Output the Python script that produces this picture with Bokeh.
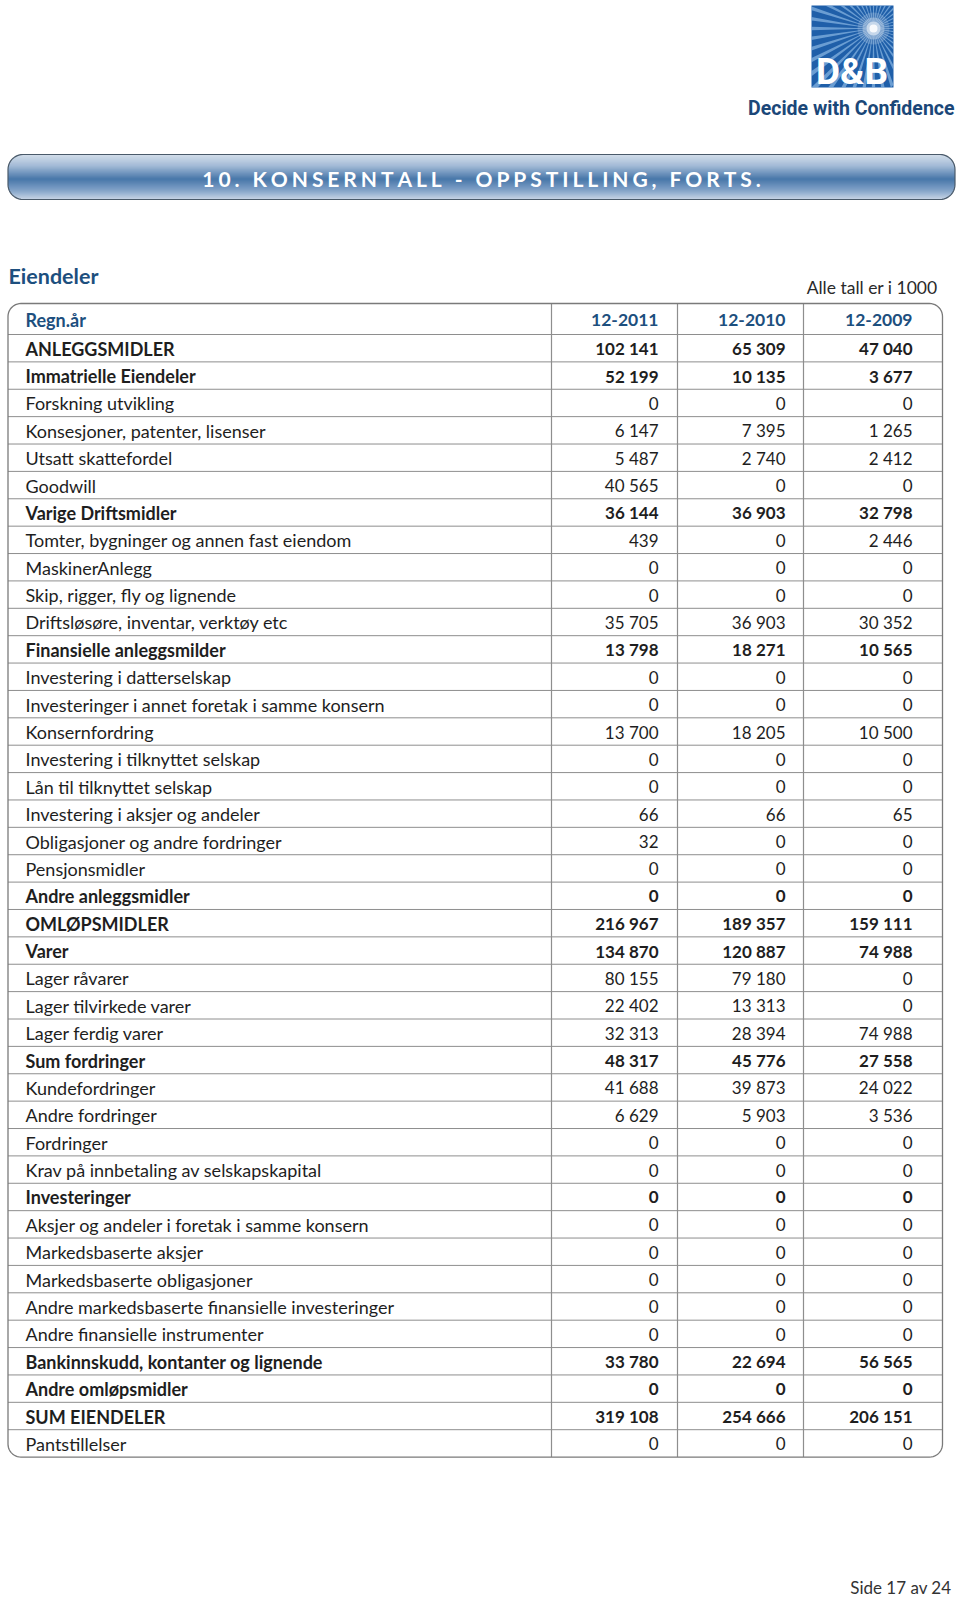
import numpy as np
from bokeh.plotting import figure
from bokeh.models import Range1d, ColumnDataSource
from bokeh.core.properties import value
from bokeh.embed import file_html
from bokeh.resources import INLINE

# ---------------- data ----------------
years = ["12-2011", "12-2010", "12-2009"]
labels = [
    "ANLEGGSMIDLER", "Immatrielle Eiendeler", "Forskning utvikling",
    "Konsesjoner, patenter, lisenser", "Utsatt skattefordel", "Goodwill",
    "Varige Driftsmidler", "Tomter, bygninger og annen fast eiendom",
    "MaskinerAnlegg", "Skip, rigger, fly og lignende",
    "Driftsløsøre, inventar, verktøy etc", "Finansielle anleggsmilder",
    "Investering i datterselskap", "Investeringer i annet foretak i samme konsern",
    "Konsernfordring", "Investering i tilknyttet selskap", "Lån til tilknyttet selskap",
    "Investering i aksjer og andeler", "Obligasjoner og andre fordringer",
    "Pensjonsmidler", "Andre anleggsmidler", "OMLØPSMIDLER", "Varer",
    "Lager råvarer", "Lager tilvirkede varer", "Lager ferdig varer",
    "Sum fordringer", "Kundefordringer", "Andre fordringer", "Fordringer",
    "Krav på innbetaling av selskapskapital", "Investeringer",
    "Aksjer og andeler i foretak i samme konsern", "Markedsbaserte aksjer",
    "Markedsbaserte obligasjoner", "Andre markedsbaserte finansielle investeringer",
    "Andre finansielle instrumenter", "Bankinnskudd, kontanter og lignende",
    "Andre omløpsmidler", "SUM EIENDELER", "Pantstillelser",
]
bold = [
    1, 1, 0, 0, 0, 0, 1, 0, 0, 0, 0, 1, 0, 0, 0, 0, 0, 0, 0, 0, 1,
    1, 1, 0, 0, 0, 1, 0, 0, 0, 0, 1, 0, 0, 0, 0, 0, 1, 1, 1, 0,
]
v2011 = [102141, 52199, 0, 6147, 5487, 40565, 36144, 439, 0, 0, 35705, 13798, 0, 0,
         13700, 0, 0, 66, 32, 0, 0, 216967, 134870, 80155, 22402, 32313, 48317,
         41688, 6629, 0, 0, 0, 0, 0, 0, 0, 0, 33780, 0, 319108, 0]
v2010 = [65309, 10135, 0, 7395, 2740, 0, 36903, 0, 0, 0, 36903, 18271, 0, 0,
         18205, 0, 0, 66, 0, 0, 0, 189357, 120887, 79180, 13313, 28394, 45776,
         39873, 5903, 0, 0, 0, 0, 0, 0, 0, 0, 22694, 0, 254666, 0]
v2009 = [47040, 3677, 0, 1265, 2412, 0, 32798, 2446, 0, 0, 30352, 10565, 0, 0,
         10500, 0, 0, 65, 0, 0, 0, 159111, 74988, 0, 0, 74988, 27558,
         24022, 3536, 0, 0, 0, 0, 0, 0, 0, 0, 56565, 0, 206151, 0]

title = "10. KONSERNTALL - OPPSTILLING, FORTS."
section = "Eiendeler"
unit_note = "Alle tall er i 1000"
first_col = "Regn.år"
footer = "Side 17 av 24"
brand = "D&B"
slogan = "Decide with Confidence"


def fmt(v):
    return f"{v:,}".replace(",", " ")


# ---------------- layout ----------------
W, H = 956, 1600
FONT = value("Lato")
BLUE = "#1d4f7e"
TXT = "#1e1e1e"
GRID = "#8e8e8e"

p = figure(width=W, height=H, output_backend="svg", toolbar_location=None,
           x_range=Range1d(0, W), y_range=Range1d(H, 0),
           x_axis_location=None, y_axis_location=None, min_border=0)
p.grid.visible = False
p.outline_line_color = None
p.background_fill_color = "white"
p.border_fill_color = "white"

# ---------- logo ----------
lx0, lx1, ly0, ly1 = 811, 893, 5, 87
p.quad(left=[lx0], right=[lx1], top=[ly0], bottom=[ly1], fill_color="#1f5fa9", line_color=None)
cx, cy = 873, 28
xs, ys = [], []
for a in np.arange(0, 360, 9):
    pts_x, pts_y = [cx], [cy]
    for da in (-1.6, 1.6):
        r = np.deg2rad(a + da)
        dx, dy = np.cos(r), np.sin(r)
        ts = []
        if dx > 1e-9: ts.append((lx1 - cx) / dx)
        if dx < -1e-9: ts.append((lx0 - cx) / dx)
        if dy > 1e-9: ts.append((ly1 - cy) / dy)
        if dy < -1e-9: ts.append((ly0 - cy) / dy)
        t = min(ts)
        pts_x.append(cx + t * dx)
        pts_y.append(cy + t * dy)
    xs.append(pts_x)
    ys.append(pts_y)
p.patches(xs, ys, fill_color="#9cc6ee", fill_alpha=0.6, line_color=None)
for rr, al in [(16, 0.18), (11, 0.3), (7, 0.5), (4, 0.85)]:
    p.circle(x=[cx], y=[cy], radius=rr, fill_color="white", fill_alpha=al, line_color=None)
p.text(x=[851.5], y=[71], text=[brand], text_font=value("Roboto"), text_font_style="bold",
       text_font_size="37px", text_color="white", text_align="center", text_baseline="middle")
p.text(x=[954], y=[108], text=[slogan], text_font=value("Roboto"),
       text_font_style="bold", text_font_size="19.5px", text_color="#1b4778",
       text_align="right", text_baseline="middle")

# ---------- title bar with gradient ----------
bx0, bx1, by0, by1, br = 7.5, 954.5, 154, 199, 15
stops_t = [0.0, 0.25, 0.55, 0.8, 1.0]
stops_c = [(0xc6, 0xd4, 0xe4), (0x86, 0xa5, 0xca), (0x0b, 0x4a, 0x8c),
           (0x5a, 0x84, 0xb6), (0xb4, 0xc7, 0xdd)]
L, R, T, B, C = [], [], [], [], []
n_str = int(by1 - by0)
for i in range(n_str):
    yt, yb = by0 + i, by0 + i + 1
    ym = (yt + yb) / 2
    tt = (ym - by0) / (by1 - by0)
    col = tuple(int(round(np.interp(tt, stops_t, [c[k] for c in stops_c]))) for k in range(3))
    if ym < by0 + br:
        d = by0 + br - ym
    elif ym > by1 - br:
        d = ym - (by1 - br)
    else:
        d = 0
    off = br - np.sqrt(max(br * br - d * d, 0))
    L.append(bx0 + off); R.append(bx1 - off); T.append(yt); B.append(yb)
    C.append("#%02x%02x%02x" % col)
p.quad(left=L, right=R, top=T, bottom=B, fill_color=C, line_color=None)


def rounded(x0, x1, y0, y1, r, n=12):
    px, py = [], []
    corners = [(x1 - r, y0 + r, -90, 0), (x1 - r, y1 - r, 0, 90),
               (x0 + r, y1 - r, 90, 180), (x0 + r, y0 + r, 180, 270)]
    for ccx, ccy, a0, a1 in corners:
        for a in np.linspace(np.deg2rad(a0), np.deg2rad(a1), n):
            px.append(ccx + r * np.cos(a)); py.append(ccy + r * np.sin(a))
    px.append(px[0]); py.append(py[0])
    return px, py


bpx, bpy = rounded(bx0, bx1, by0, by1, br)
p.line(bpx, bpy, line_color="#4a5a6a", line_width=1.2)
spaced = "\u2009\u200a".join(title)
p.text(x=[(bx0 + bx1) / 2], y=[177.5], text=[spaced], text_font=FONT, text_font_style="bold",
       text_font_size="21px", text_color="white", text_align="center", text_baseline="middle")

# ---------- section heading ----------
p.text(x=[8], y=[275], text=[section], text_font=FONT, text_font_style="bold",
       text_font_size="21.5px", text_color=BLUE, text_align="left", text_baseline="middle")
p.text(x=[937], y=[287], text=[unit_note], text_font=FONT, text_font_size="17.5px",
       text_color="#2a2a2a", text_align="right", text_baseline="middle")

# ---------- table ----------
tx0, tx1 = 7.5, 942
ttop, thead = 303, 334
rh = 27.38
n = len(labels)
tbot = thead + n * rh
col_lines = [551, 677, 803]
num_right = [658, 785, 912]

hy = [thead + k * rh for k in range(n)]
p.segment(x0=[tx0] * n, x1=[tx1] * n, y0=hy, y1=hy, line_color=GRID, line_width=1)
p.segment(x0=col_lines, x1=col_lines, y0=[ttop] * 3, y1=[tbot] * 3, line_color=GRID, line_width=1.2)
opx, opy = rounded(tx0, tx1, ttop, tbot, 13)
p.line(opx, opy, line_color="#7a7a7a", line_width=1.3)

hyc = (ttop + thead) / 2 + 1
p.text(x=[25], y=[hyc], text=[first_col], text_font=FONT, text_font_style="bold",
       text_font_size="18px", text_color=BLUE, text_align="left", text_baseline="middle")
p.text(x=num_right, y=[hyc] * 3, text=years, text_font=FONT, text_font_style="bold",
       text_font_size="17.5px", text_color=BLUE, text_align="right", text_baseline="middle")

yc = [thead + (k + 0.5) * rh + 0.5 for k in range(n)]
fs = ["bold" if b else "normal" for b in bold]
src = ColumnDataSource(dict(
    y=yc, lab=labels, fs=fs,
    a=[fmt(v) for v in v2011], b=[fmt(v) for v in v2010], c=[fmt(v) for v in v2009],
))
p.text(x=25, y="y", text="lab", source=src, text_font=FONT, text_font_style="fs",
       text_font_size="18px", text_color=TXT, text_align="left", text_baseline="middle")
for xr, key in zip(num_right, ["a", "b", "c"]):
    p.text(x=xr, y="y", text=key, source=src, text_font=FONT, text_font_style="fs",
           text_font_size="17px", text_color=TXT, text_align="right", text_baseline="middle")

# ---------- footer ----------
p.text(x=[951], y=[1587], text=[footer], text_font=FONT, text_font_size="17px",
       text_color="#333333", text_align="right", text_baseline="middle")

open("out.html", "w").write(file_html(p, INLINE))
